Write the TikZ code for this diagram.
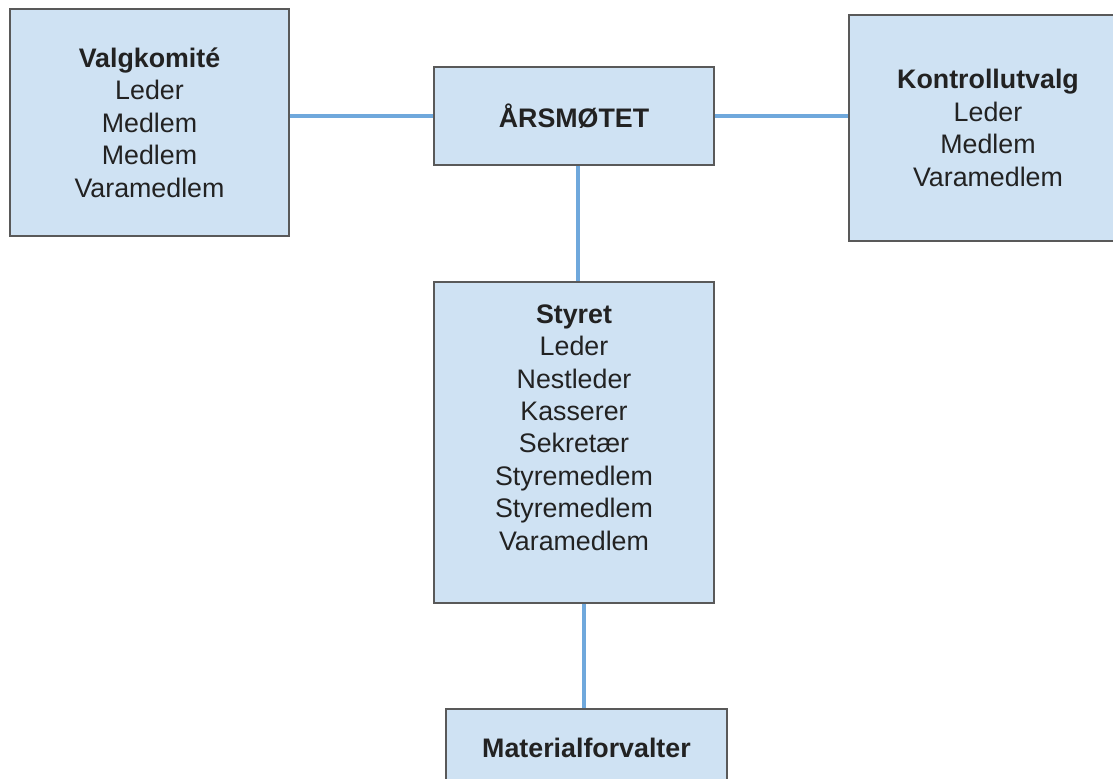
\documentclass[tikz,border=0pt]{standalone}
\usepackage{fontspec}
\setmainfont{Liberation Sans}
\usepackage{xcolor}
\usepackage{tikz}
\definecolor{boxfill}{HTML}{CFE2F3}
\definecolor{boxline}{HTML}{595959}
\definecolor{linkblue}{HTML}{6FA8DC}
\definecolor{textgray}{HTML}{222222}

\begin{document}
\begin{tikzpicture}[
    x                       = 0.5pt,
    y                       = -0.5pt,
    every node/.style       = {font=\fontsize{13.4}{16.2}\selectfont, text=textgray},
    orgbox/.style           = {draw=boxline, fill=boxfill, line width=0.75pt,
                               align=center, inner sep=0pt},
    link/.style             = {draw=linkblue, line width=1.75pt}
  ]
\useasboundingbox (0,0) rectangle (1113,778);
\node[orgbox, minimum width=139.5pt, minimum height=113.5pt] (valg) at (149.5,122.5)
      {\textbf{Valgkomité}\\Leder\\Medlem\\Medlem\\Varamedlem};
\node[orgbox, minimum width=140pt, minimum height=49pt] (arsmotet) at (574,116)
      {\textbf{ÅRSMØTET}};
\node[orgbox, minimum width=139pt, minimum height=113pt] (kontroll) at (988,128)
      {\textbf{Kontrollutvalg}\\Leder\\Medlem\\Varamedlem};
\node[orgbox, minimum width=140pt, minimum height=160.5pt] (styret) at (574,442.5)
      {\textbf{Styret}\\Leder\\Nestleder\\Kasserer\\Sekretær\\Styremedlem\\Styremedlem\\Varamedlem\\[-1pt]};
\node[orgbox, minimum width=140.5pt, minimum height=39pt] (material) at (586.5,748)
      {\textbf{Materialforvalter}};

\draw[link] (valg.east |- arsmotet.west) -- (arsmotet.west);
\draw[link] (arsmotet.east) -- (arsmotet.east -| kontroll.west);
\draw[link] ([xshift=2pt]arsmotet.south) -- ([xshift=2pt]styret.north);
\draw[link] ([xshift=5pt]styret.south) -- ([xshift=5pt]styret.south |- material.north);
\end{tikzpicture}
\end{document}
